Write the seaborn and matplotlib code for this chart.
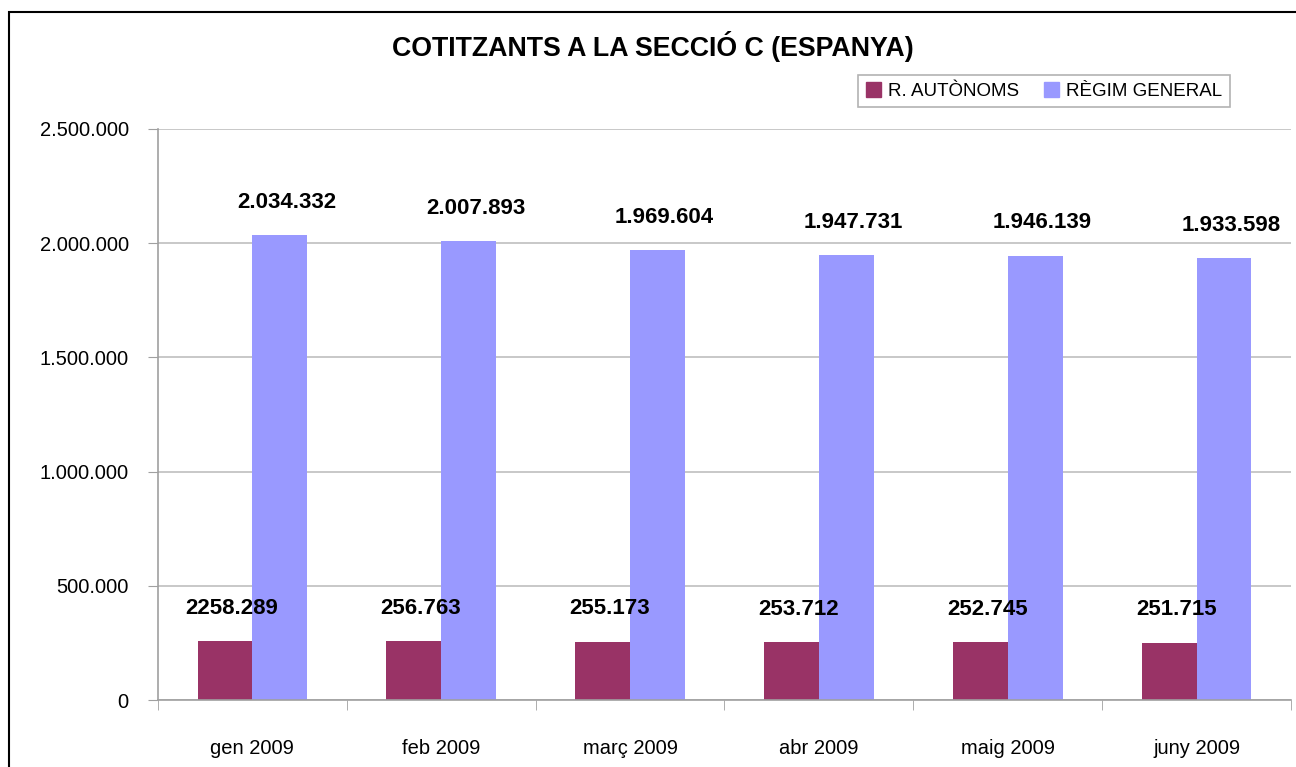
import pandas as pd
import matplotlib
matplotlib.use('Agg')
import matplotlib.pyplot as plt
import matplotlib.patches as mpatches
import seaborn as sns

# Data
months = ['gen 2009', 'feb 2009', 'març 2009', 'abr 2009', 'maig 2009', 'juny 2009']
autonoms = [258289, 256763, 255173, 253712, 252745, 251715]
general = [2034332, 2007893, 1969604, 1947731, 1946139, 1933598]
autonoms_labels = ['2258.289', '256.763', '255.173', '253.712', '252.745', '251.715']
general_labels = ['2.034.332', '2.007.893', '1.969.604', '1.947.731', '1.946.139', '1.933.598']
series = ['R. AUTÒNOMS', 'RÈGIM GENERAL']
yticks = [0, 500000, 1000000, 1500000, 2000000, 2500000]

df = pd.DataFrame({
    'mes': months * 2,
    'serie': [series[0]] * len(months) + [series[1]] * len(months),
    'valor': autonoms + general,
})

sns.set_style('white')
plt.rcParams['font.family'] = ['Liberation Sans', 'DejaVu Sans']
plt.rcParams['text.color'] = 'black'
plt.rcParams['xtick.labelcolor'] = 'black'
plt.rcParams['ytick.labelcolor'] = 'black'

fig = plt.figure(figsize=(12.96, 7.67), dpi=100)
ax = fig.add_axes([158 / 1296, 67 / 767, (1291 - 158) / 1296, (700 - 129) / 767])

colors = ['#993366', '#9999FF']
sns.barplot(data=df, x='mes', y='valor', hue='serie', palette=colors,
            width=0.58, saturation=1, linewidth=0, ax=ax, legend=False)

# value labels
for bars, labels in zip(ax.containers, [autonoms_labels, general_labels]):
    for bar, lab in zip(bars, labels):
        ax.annotate(lab, (bar.get_x() + bar.get_width() / 2, bar.get_height()),
                    xytext=(7, 33), textcoords='offset pixels',
                    ha='center', va='center', fontsize=16, fontweight='bold')

ax.set_ylim(0, 2500000)
ax.set_xlim(-0.5, len(months) - 0.5)
ax.set_yticks(yticks)
ax.set_yticklabels([f'{v:,}'.replace(',', '.') for v in yticks], fontsize=14.5)
ax.yaxis.grid(True, color='#BFBFBF', linewidth=1.2)
ax.set_axisbelow(True)
ax.set_xlabel('')
ax.set_ylabel('')

# ticks between categories
ax.set_xticks([i - 0.5 for i in range(len(months) + 1)], minor=True)
ax.tick_params(axis='x', which='major', length=0, pad=28, labelsize=14.5)
ax.tick_params(axis='x', which='minor', length=7, color='#A0A0A0', direction='out', bottom=True)
ax.tick_params(axis='y', length=7, color='#A0A0A0', direction='out', left=True, pad=14)

for side in ['top', 'right']:
    ax.spines[side].set_visible(False)
for side in ['left', 'bottom']:
    ax.spines[side].set_color('#A0A0A0')
    ax.spines[side].set_linewidth(1.2)

fig.text(653 / 1296, 1 - 47 / 767, 'COTITZANTS A LA SECCIÓ C (ESPANYA)',
         ha='center', va='center', fontsize=19.3, fontweight='bold')

handles = [mpatches.Patch(color=c, label=s) for c, s in zip(colors, series)]
leg = fig.legend(handles=handles, loc='center', ncol=2,
                 bbox_to_anchor=(1044 / 1296, 1 - 91 / 767), fontsize=13.5,
                 frameon=True, fancybox=False, edgecolor='#A0A0A0',
                 handlelength=0.8, handleheight=0.8, handletextpad=0.4,
                 columnspacing=1.3, borderpad=0.4, borderaxespad=0)
leg.get_frame().set_linewidth(1.2)

# outer chart border
fig.patches.append(mpatches.Rectangle((9 / 1296, -0.05), 1.2, 1 - 12 / 767 + 0.05,
                                      transform=fig.transFigure, fill=False,
                                      edgecolor='black', linewidth=1.5))

fig.savefig('out.png', dpi=100)
